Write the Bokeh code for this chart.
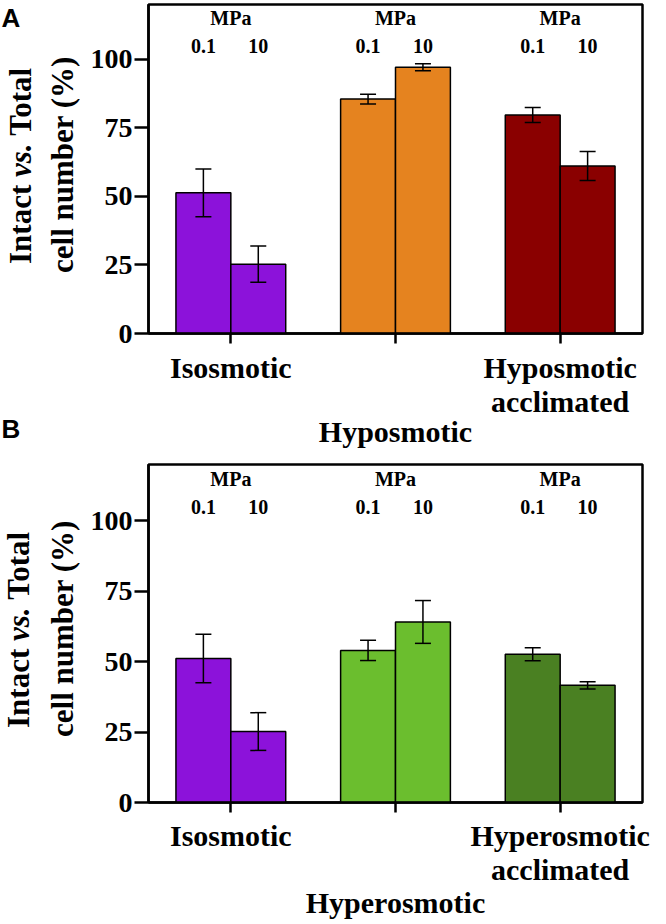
import math
from bokeh.plotting import figure
from bokeh.models import (ColumnDataSource, FactorRange, Range1d, Whisker, TeeHead,
                          FixedTicker, CategoricalAxis)
from bokeh.transform import dodge
from bokeh.layouts import column, row
from bokeh.core.properties import value
from bokeh.embed import file_html
from bokeh.resources import INLINE

# ---------------- data ----------------
groups_A = ["Isosmotic", "Hyposmotic", "Hyposmotic acclimated"]
# three rows of category text under the axis (staggered as in the figure)
rows_A = [["Isosmotic", "", "Hyposmotic"],
          ["", "", "acclimated"],
          ["", "Hyposmotic", ""]]
A_mean_01 = [51.3, 85.5, 79.7]
A_err_01 = [8.7, 1.8, 2.7]
A_mean_10 = [25.3, 97.1, 61.1]
A_err_10 = [6.6, 1.3, 5.3]
colors_A = ["#8C12DA", "#E5831F", "#8A0000"]

groups_B = ["Isosmotic", "Hyperosmotic", "Hyperosmotic acclimated"]
rows_B = [["Isosmotic", "", "Hyperosmotic"],
          ["", "", "acclimated"],
          ["", "Hyperosmotic", ""]]
B_mean_01 = [51.1, 54.0, 52.6]
B_err_01 = [8.6, 3.6, 2.3]
B_mean_10 = [25.2, 64.1, 41.6]
B_err_10 = [6.7, 7.6, 1.3]
colors_B = ["#8C12DA", "#6BBE2E", "#4A8022"]

pressures = ["0.1", "10"]
pressure_unit = "MPa"
y_ticks = [0, 25, 50, 75, 100]
y_max = 120
ylabel_1 = ["Intact", "vs.", "Total"]
ylabel_1_styles = ["bold", "bold italic", "bold"]
ylabel_2 = "cell number (%)"
panel_letters = ["A", "B"]

SERIF = "Liberation Serif"
SANS = "Liberation Sans"
LEFT_W = 80


def unique_labels(labels):
    # blank entries get distinct whitespace so they can be factors
    out, k = [], 0
    for lab in labels:
        if lab == "":
            k += 1
            out.append(" " * k)
        else:
            out.append(lab)
    return out


def make_panel(groups, rows, m01, e01, m10, e10, colors, height,
               bl, br, bt, bb, standoffs):
    p = figure(x_range=FactorRange(*groups), y_range=Range1d(0, y_max),
               width=666 - LEFT_W, height=height, output_backend="svg",
               toolbar_location=None, min_border_left=bl, min_border_right=br,
               min_border_top=bt, min_border_bottom=bb, x_axis_location=None)
    p.background_fill_color = "white"
    p.border_fill_color = "white"
    p.xgrid.visible = False
    p.ygrid.visible = False
    p.outline_line_color = "black"
    p.outline_line_width = 2.5
    p.outline_line_alpha = 1.0

    offs = [-1 / 6, 1 / 6]
    for off, means, errs in zip(offs, [m01, m10], [e01, e10]):
        src = ColumnDataSource(dict(
            group=groups, mean=means,
            upper=[m + e for m, e in zip(means, errs)],
            lower=[m - e for m, e in zip(means, errs)],
            color=colors))
        p.vbar(x=dodge("group", off, range=p.x_range), top="mean", width=1 / 3,
               bottom=0, source=src, fill_color="color", line_color="black",
               line_width=1.5)
        w = Whisker(source=src, base=dodge("group", off, range=p.x_range),
                    upper="upper", lower="lower", line_color="black",
                    line_width=1.5,
                    upper_head=TeeHead(size=16, line_width=1.5, line_color="black"),
                    lower_head=TeeHead(size=16, line_width=1.5, line_color="black"))
        w.level = "overlay"
        p.add_layout(w)

    # pressure annotations above each group
    lab_src = ColumnDataSource(dict(group=groups))
    p.text(x="group", y=115, text=value(pressure_unit), source=lab_src,
           text_font=value(SERIF), text_font_style="bold", text_font_size="20px",
           text_align="center", text_baseline="middle", text_color="black")
    for off, pr in zip(offs, pressures):
        p.text(x=dodge("group", off, range=p.x_range), y=105, text=value(pr),
               source=lab_src, text_font=value(SERIF), text_font_style="bold",
               text_font_size="20px", text_align="center",
               text_baseline="middle", text_color="black")

    # y axis
    p.yaxis.ticker = FixedTicker(ticks=y_ticks)
    p.yaxis.minor_tick_line_color = None
    p.yaxis.major_tick_in = 0
    p.yaxis.major_tick_out = 14
    p.yaxis.major_tick_line_width = 2.5
    p.yaxis.axis_line_width = 2.5
    p.yaxis.major_label_standoff = 2
    p.yaxis.major_label_text_font = SERIF
    p.yaxis.major_label_text_font_style = "bold"
    p.yaxis.major_label_text_font_size = "28px"
    p.yaxis.major_label_text_color = "black"

    # x axis rows: library categorical axes on parallel factor ranges
    for i, (r, so) in enumerate(zip(rows, standoffs)):
        name = f"row{i}"
        p.extra_x_ranges[name] = FactorRange(*unique_labels(r))
        ax = CategoricalAxis(x_range_name=name)
        ax.major_label_standoff = so
        ax.major_label_text_font = SERIF
        ax.major_label_text_font_style = "bold"
        ax.major_label_text_font_size = "30px"
        ax.major_label_text_color = "black"
        ax.minor_tick_line_color = None
        ax.major_tick_in = 0
        if i == 0:
            ax.major_tick_out = 10
            ax.major_tick_line_width = 2.5
            ax.axis_line_width = 2.5
        else:
            ax.axis_line_color = None
            ax.major_tick_line_color = None
            ax.major_tick_out = 0
        p.add_layout(ax, "below")
    return p


pA = make_panel(groups_A, rows_A, A_mean_01, A_err_01, A_mean_10, A_err_10,
                colors_A, 452, 148 - LEFT_W, 24, 4, 119, [7, -2, -6])
pB = make_panel(groups_B, rows_B, B_mean_01, B_err_01, B_mean_10, B_err_10,
                colors_B, 472, 144 - LEFT_W, 14, 12, 122, [6, -2, -3])

# ---- left strip: panel letters and y-axis titles (text only) ----
left = figure(width=LEFT_W, height=924, x_range=Range1d(0, LEFT_W),
              y_range=Range1d(924, 0), output_backend="svg",
              toolbar_location=None, x_axis_type=None, y_axis_type=None,
              min_border=0, outline_line_color=None)
left.background_fill_color = "white"
left.border_fill_color = "white"

letter_y = [17, 428]
left.text(x=[1, 1], y=letter_y, text=panel_letters, text_font=value(SANS),
          text_font_style="bold", text_font_size="26px", text_align="left",
          text_baseline="middle", text_color="black")

FS = 31
em_w = [2805, 1333, 2278]  # Times-bold advances incl. following space (1/1000 em)
piece_w = [w / 1000 * FS for w in em_w]
total_w = sum(piece_w)
title_centres = [164, 628]
line1_x = [20, 18]
line2_x = [62, 62]
for c, x1, x2 in zip(title_centres, line1_x, line2_x):
    start = c + total_w / 2
    acc = 0.0
    for txt, st, wpx in zip(ylabel_1, ylabel_1_styles, piece_w):
        left.text(x=[x1], y=[start - acc], text=[txt], angle=math.pi / 2,
                  text_font=value(SERIF), text_font_style=st,
                  text_font_size=f"{FS}px", text_align="left",
                  text_baseline="middle", text_color="black")
        acc += wpx
    left.text(x=[x2], y=[c], text=[ylabel_2], angle=math.pi / 2,
              text_font=value(SERIF), text_font_style="bold",
              text_font_size=f"{FS}px", text_align="center",
              text_baseline="middle", text_color="black")

layout = row(left, column(pA, pB, spacing=0), spacing=0)
open("out.html", "w").write(file_html(layout, INLINE))
